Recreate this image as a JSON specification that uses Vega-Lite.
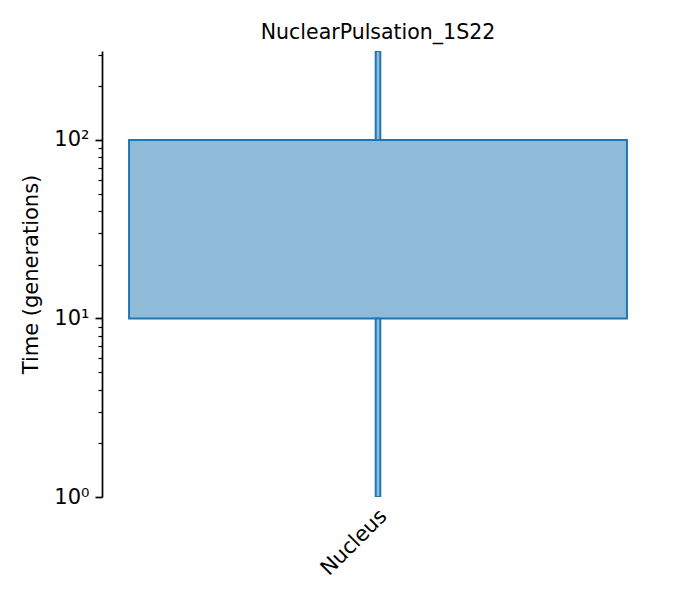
{
  "$schema": "https://vega.github.io/schema/vega-lite/v6.json",
  "autosize": "none",
  "width": 552,
  "height": 446,
  "padding": {"left": 102, "top": 51, "right": 21, "bottom": 103},
  "background": "white",
  "config": {
    "view": {"stroke": null},
    "font": "DejaVu Sans"
  },
  "title": {
    "text": "NuclearPulsation_1S22",
    "font": "DejaVu Sans",
    "fontSize": 20.5,
    "fontWeight": "normal",
    "color": "black",
    "baseline": "alphabetic",
    "offset": 11,
    "dy": 19
  },
  "encoding": {
    "x": {
      "field": "compartment",
      "type": "nominal",
      "scale": {"paddingInner": 0, "paddingOuter": 0},
      "axis": {
        "title": null,
        "domain": false,
        "ticks": false,
        "labelAngle": -45,
        "labelAlign": "right",
        "labelBaseline": "alphabetic",
        "labelPadding": 20,
        "labelOffset": 10,
        "labelFont": "DejaVu Sans",
        "labelFontSize": 21,
        "labelColor": "black"
      }
    },
    "y": {
      "field": "lo",
      "type": "quantitative",
      "scale": {"type": "log", "domain": [1, 315], "nice": false},
      "axis": {
        "title": "Time (generations)",
        "titleFont": "DejaVu Sans",
        "titleFontSize": 21,
        "titleFontWeight": "normal",
        "titleColor": "black",
        "titleAngle": -90,
        "titleAlign": "center",
        "titleBaseline": "alphabetic",
        "titleX": -65,
        "titleY": 223,
        "grid": false,
        "domainColor": "black",
        "domainWidth": 1.7,
        "tickColor": "black",
        "values": [1, 2, 3, 4, 5, 6, 7, 8, 9, 10, 20, 30, 40, 50, 60, 70, 80, 90, 100, 200, 300],
        "tickSize": {"condition": {"test": "datum.value == 1 || datum.value == 10 || datum.value == 100", "value": 7}, "value": 4},
        "tickWidth": {"condition": {"test": "datum.value == 1 || datum.value == 10 || datum.value == 100", "value": 1.7}, "value": 1.2},
        "labelExpr": "datum.value == 100 ? '10²' : datum.value == 10 ? '10¹' : datum.value == 1 ? '10⁰' : ''",
        "labelFont": "DejaVu Sans",
        "labelFontSize": 21,
        "labelColor": "black",
        "labelPadding": 6,
        "labelBaseline": "middle"
      }
    },
    "y2": {"field": "hi"}
  },
  "layer": [
    {
      "data": {"values": [{"compartment": "Nucleus", "lo": 10, "hi": 100}]},
      "mark": {
        "type": "bar",
        "width": {"band": 0.902},
        "fill": "#8fbbd9",
        "stroke": "#1f77b4",
        "strokeWidth": 2,
        "clip": true
      }
    },
    {
      "data": {"values": [
        {"compartment": "Nucleus", "lo": 1, "hi": 10},
        {"compartment": "Nucleus", "lo": 100, "hi": 315}
      ]},
      "mark": {
        "type": "bar",
        "width": 4.6,
        "fill": "#8fbbd9",
        "stroke": "#1f77b4",
        "strokeWidth": 2,
        "clip": true
      }
    }
  ]
}
